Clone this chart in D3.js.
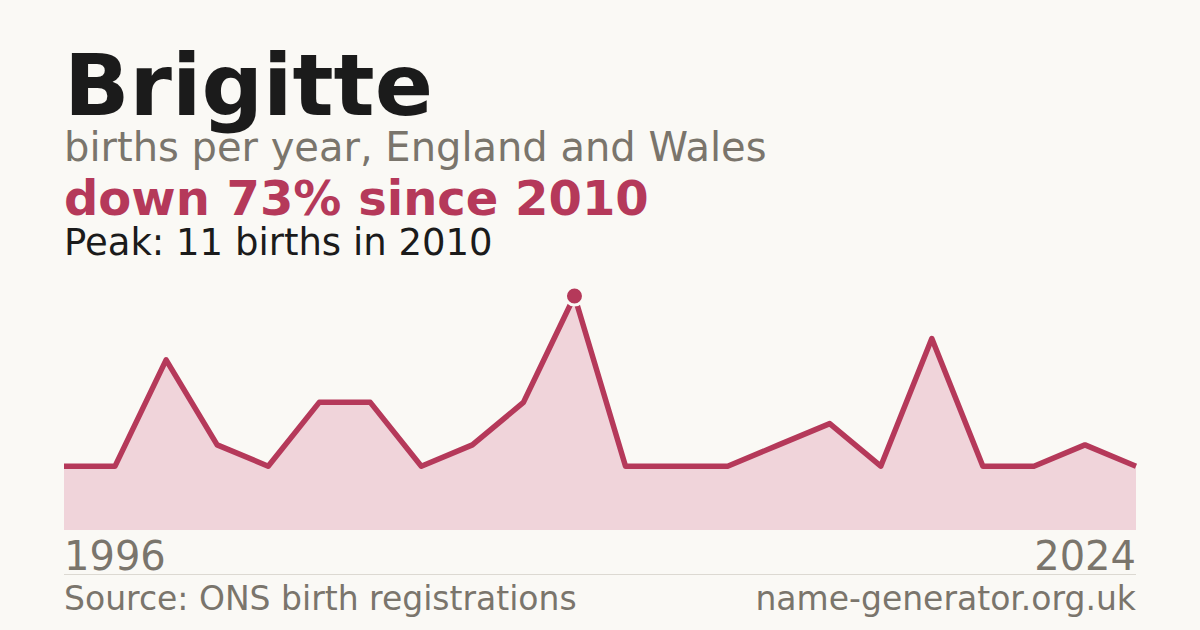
<!DOCTYPE html>
<html>
<head>
<meta charset="utf-8">
<script src="https://cdn.jsdelivr.net/npm/d3@7"></script>
<style>
  html, body { margin: 0; padding: 0; background: #faf9f5; }
  svg { display: block; font-family: "DejaVu Sans", sans-serif; }
</style>
</head>
<body>
<svg id="chart" width="1200" height="630"></svg>
<script>
// years with registered births (years under the threshold are not shown)
var years = [1996, 1997, 1998, 1999, 2001, 2002, 2003, 2005, 2007, 2009, 2010,
             2011, 2012, 2014, 2015, 2016, 2017, 2018, 2019, 2021, 2023, 2024];
var births = [3, 3, 8, 4, 3, 6, 6, 3, 4, 6, 11,
              3, 3, 3, 4, 5, 3, 9, 3, 3, 4, 3];
var axisLabels = ["1996", "2024"];

var name = "Brigitte";
var subtitle = "births per year, England and Wales";
var source = "Source: ONS birth registrations";
var site = "name-generator.org.uk";

var red = "#b5395a";
var grey = "#7a756c";

var svg = d3.select("#chart");
var padding = {l: 64, r: 64};
var plotTop = 296, plotBottom = 530;

var data = years.map(function(y, i) { return {year: y, value: births[i]}; });

var peak = data.reduce(function(a, b) { return b.value > a.value ? b : a; });
var last = data[data.length - 1];
var change = Math.round((peak.value - last.value) / peak.value * 100);

// headings
svg.append("text").attr("x", 64).attr("y", 115)
  .attr("font-size", 86).attr("font-weight", "bold").attr("fill", "#1b1b1b")
  .text(name);
svg.append("text").attr("x", 64).attr("y", 161)
  .attr("font-size", 40).attr("fill", grey)
  .text(subtitle);
svg.append("text").attr("x", 64).attr("y", 215)
  .attr("font-size", 48).attr("font-weight", "bold").attr("fill", red)
  .text("down " + change + "% since " + peak.year);
svg.append("text").attr("x", 64).attr("y", 255)
  .attr("font-size", 37).attr("fill", "#1b1b1b")
  .text("Peak: " + peak.value + " births in " + peak.year);

// scales
var x = d3.scalePoint()
  .domain(years)
  .range([padding.l, 1200 - padding.r]);
var y = d3.scaleLinear()
  .domain([0, peak.value])
  .range([plotBottom, plotTop]);

var area = d3.area()
  .x(function(d) { return x(d.year); })
  .y0(plotBottom)
  .y1(function(d) { return y(d.value); });
var line = d3.line()
  .x(function(d) { return x(d.year); })
  .y(function(d) { return y(d.value); });

svg.append("path").datum(data)
  .attr("d", area)
  .attr("fill", "#f0d4da");
svg.append("path").datum(data)
  .attr("d", line)
  .attr("fill", "none")
  .attr("stroke", red)
  .attr("stroke-width", 5.5)
  .attr("stroke-linejoin", "round");

svg.append("circle")
  .attr("cx", x(peak.year))
  .attr("cy", y(peak.value))
  .attr("r", 9)
  .attr("fill", red)
  .attr("stroke", "#faf9f5")
  .attr("stroke-width", 3);

// year labels
svg.append("text").attr("x", 64).attr("y", 570)
  .attr("font-size", 40).attr("fill", grey)
  .text(axisLabels[0]);
svg.append("text").attr("x", 1136).attr("y", 570)
  .attr("font-size", 40).attr("fill", grey).attr("text-anchor", "end")
  .text(axisLabels[1]);

svg.append("line")
  .attr("x1", 64).attr("x2", 1136)
  .attr("y1", 574.5).attr("y2", 574.5)
  .attr("stroke", "#dcd9d2").attr("stroke-width", 1);

// footer
svg.append("text").attr("x", 64).attr("y", 610)
  .attr("font-size", 33).attr("fill", grey)
  .text(source);
svg.append("text").attr("x", 1136).attr("y", 610)
  .attr("font-size", 33).attr("fill", grey).attr("text-anchor", "end")
  .text(site);
</script>
</body>
</html>
